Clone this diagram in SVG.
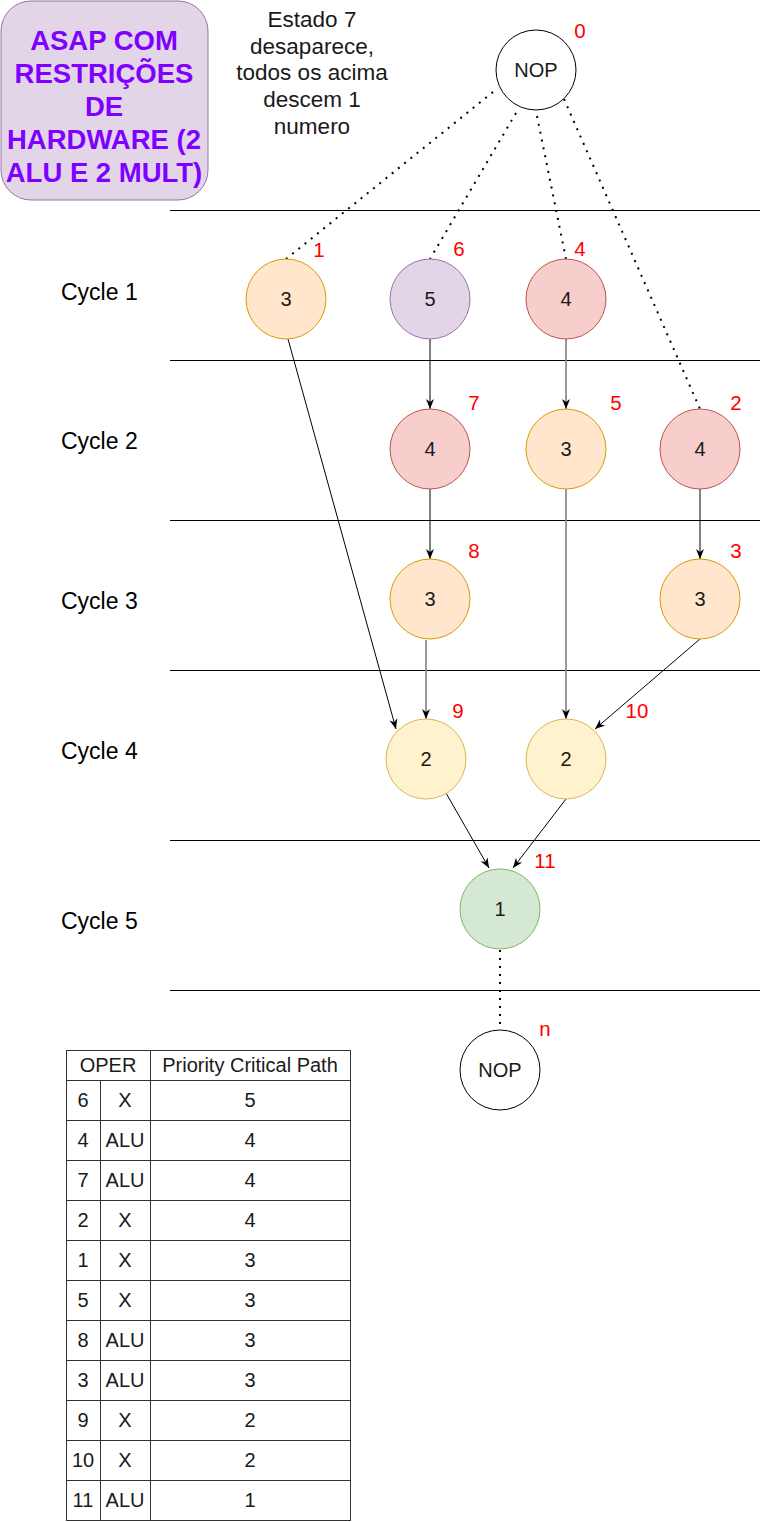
<svg xmlns="http://www.w3.org/2000/svg" width="765" height="1522" viewBox="0 0 765 1522">
<style>
text{font-family:"Liberation Sans",Arial,Helvetica,sans-serif;fill:#000}
.n{font-size:20px;text-anchor:middle;fill:#1a1a1a}
.lbl{font-size:20.5px;text-anchor:middle;fill:#ff0000}
.cyc{font-size:23px;fill:#000}
.or{fill:#ffe6cc;stroke:#d79b00;stroke-width:1}
.pu{fill:#e1d5e7;stroke:#9673a6;stroke-width:1}
.rd{fill:#f8cecc;stroke:#b85450;stroke-width:1}
.ye{fill:#fff2cc;stroke:#d6b656;stroke-width:1}
.gr{fill:#d5e8d4;stroke:#82b366;stroke-width:1}
.nop{fill:#fff;stroke:#000;stroke-width:1}
.e{stroke:#000;stroke-width:1;fill:none}
.g{stroke:#808080;stroke-width:1.6;fill:none}
.d{stroke:#000;stroke-width:2;stroke-dasharray:2 6;fill:none}
.hl{stroke:#000;stroke-width:1}
.tb{stroke:#333;stroke-width:1;fill:none}
.t{font-size:20px;text-anchor:middle;fill:#1a1a1a}
.title{font-size:27.5px;font-weight:bold;text-anchor:middle;fill:#7f00ff}
.note{font-size:22.5px;text-anchor:middle;fill:#1a1a1a}
</style>
<defs>
<marker id="arr" viewBox="0 0 10 10" refX="10" refY="5" markerWidth="10" markerHeight="10" markerUnits="userSpaceOnUse" orient="auto">
<path d="M0,1 L10,5 L0,9 L3,5 Z" fill="#000"/>
</marker>
</defs>
<rect width="765" height="1522" fill="#fff"/>

<g id="title">
<rect x="1" y="1" width="207" height="199" rx="30" ry="30" fill="#e1d5e7" stroke="#9673a6"/>
<text class="title" x="104" y="50">ASAP COM</text>
<text class="title" x="104" y="83">RESTRIÇÕES</text>
<text class="title" x="104" y="116">DE</text>
<text class="title" x="104" y="149">HARDWARE (2</text>
<text class="title" x="104" y="182">ALU E 2 MULT)</text>
</g>

<g id="note">
<text class="note" x="312" y="27">Estado 7</text>
<text class="note" x="312" y="53.5">desaparece,</text>
<text class="note" x="312" y="80">todos os acima</text>
<text class="note" x="312" y="107">descem 1</text>
<text class="note" x="312" y="133.5">numero</text>
</g>

<g id="cycle-lines">
<line class="hl" x1="170" y1="210.5" x2="760" y2="210.5"/>
<line class="hl" x1="170" y1="360.5" x2="760" y2="360.5"/>
<line class="hl" x1="170" y1="520.5" x2="760" y2="520.5"/>
<line class="hl" x1="170" y1="670.5" x2="760" y2="670.5"/>
<line class="hl" x1="170" y1="840.5" x2="760" y2="840.5"/>
<line class="hl" x1="170" y1="990.5" x2="760" y2="990.5"/>
</g>

<g id="cycle-labels">
<text class="cyc" x="61" y="300">Cycle 1</text>
<text class="cyc" x="61" y="449">Cycle 2</text>
<text class="cyc" x="61" y="609">Cycle 3</text>
<text class="cyc" x="61" y="759">Cycle 4</text>
<text class="cyc" x="61" y="929">Cycle 5</text>
</g>

<g id="connectors">
<line class="d" x1="493" y1="92" x2="286" y2="259"/>
<line class="d" x1="516" y1="113" x2="430" y2="259"/>
<line class="d" x1="537" y1="116" x2="566" y2="259"/>
<line class="d" x1="564" y1="99" x2="700" y2="409"/>
<line class="e" x1="288" y1="339" x2="396" y2="729" marker-end="url(#arr)"/>
<line class="e" x1="430" y1="339" x2="430" y2="409" marker-end="url(#arr)"/>
<line class="g" x1="566" y1="339" x2="566" y2="409" marker-end="url(#arr)"/>
<line class="e" x1="430" y1="489" x2="430" y2="559" marker-end="url(#arr)"/>
<line class="e" x1="700" y1="489" x2="700" y2="559" marker-end="url(#arr)"/>
<line class="g" x1="426" y1="640" x2="426" y2="719" marker-end="url(#arr)"/>
<line class="g" x1="566" y1="489" x2="566" y2="719" marker-end="url(#arr)"/>
<line class="e" x1="700" y1="639" x2="595" y2="729" marker-end="url(#arr)"/>
<line class="e" x1="446" y1="793" x2="489" y2="868" marker-end="url(#arr)"/>
<line class="e" x1="566" y1="799" x2="513" y2="868" marker-end="url(#arr)"/>
<line class="d" x1="500" y1="950" x2="500" y2="1030"/>
</g>

<g id="nop0">
<circle class="nop" cx="536" cy="70" r="40"/>
<text class="n" x="536" y="77">NOP</text>
<text class="lbl" x="580" y="38">0</text>
</g>
<g id="op1">
<circle class="or" cx="286" cy="299" r="40"/>
<text class="n" x="286" y="306">3</text>
<text class="lbl" x="319" y="257">1</text>
</g>
<g id="op6">
<circle class="pu" cx="430" cy="299" r="40"/>
<text class="n" x="430" y="306">5</text>
<text class="lbl" x="459" y="256">6</text>
</g>
<g id="op4">
<circle class="rd" cx="566" cy="299" r="40"/>
<text class="n" x="566" y="306">4</text>
<text class="lbl" x="580" y="256">4</text>
</g>
<g id="op7">
<circle class="rd" cx="430" cy="449" r="40"/>
<text class="n" x="430" y="456">4</text>
<text class="lbl" x="474" y="410">7</text>
</g>
<g id="op5">
<circle class="or" cx="566" cy="449" r="40"/>
<text class="n" x="566" y="456">3</text>
<text class="lbl" x="616" y="410">5</text>
</g>
<g id="op2">
<circle class="rd" cx="700" cy="449" r="40"/>
<text class="n" x="700" y="456">4</text>
<text class="lbl" x="736" y="410">2</text>
</g>
<g id="op8">
<circle class="or" cx="430" cy="599" r="40"/>
<text class="n" x="430" y="606">3</text>
<text class="lbl" x="474" y="558">8</text>
</g>
<g id="op3">
<circle class="or" cx="700" cy="599" r="40"/>
<text class="n" x="700" y="606">3</text>
<text class="lbl" x="736" y="558">3</text>
</g>
<g id="op9">
<circle class="ye" cx="426" cy="759" r="40"/>
<text class="n" x="426" y="766">2</text>
<text class="lbl" x="458" y="718">9</text>
</g>
<g id="op10">
<circle class="ye" cx="566" cy="759" r="40"/>
<text class="n" x="566" y="766">2</text>
<text class="lbl" x="637" y="718">10</text>
</g>
<g id="op11">
<circle class="gr" cx="500" cy="909" r="40"/>
<text class="n" x="500" y="916">1</text>
<text class="lbl" x="545" y="868">11</text>
</g>
<g id="nopn">
<circle class="nop" cx="500" cy="1070" r="40"/>
<text class="n" x="500" y="1077">NOP</text>
<text class="lbl" x="545" y="1036">n</text>
</g>

<g id="table">
<rect class="tb" x="66.5" y="1050.5" width="284" height="470"/>
<line class="tb" x1="66" y1="1080.5" x2="351" y2="1080.5"/>
<line class="tb" x1="66" y1="1120.5" x2="351" y2="1120.5"/>
<line class="tb" x1="66" y1="1160.5" x2="351" y2="1160.5"/>
<line class="tb" x1="66" y1="1200.5" x2="351" y2="1200.5"/>
<line class="tb" x1="66" y1="1240.5" x2="351" y2="1240.5"/>
<line class="tb" x1="66" y1="1280.5" x2="351" y2="1280.5"/>
<line class="tb" x1="66" y1="1320.5" x2="351" y2="1320.5"/>
<line class="tb" x1="66" y1="1360.5" x2="351" y2="1360.5"/>
<line class="tb" x1="66" y1="1400.5" x2="351" y2="1400.5"/>
<line class="tb" x1="66" y1="1440.5" x2="351" y2="1440.5"/>
<line class="tb" x1="66" y1="1480.5" x2="351" y2="1480.5"/>
<line class="tb" x1="100.5" y1="1080" x2="100.5" y2="1520"/>
<line class="tb" x1="150.5" y1="1050" x2="150.5" y2="1520"/>
<text class="t" x="108" y="1072">OPER</text>
<text class="t" x="250" y="1072">Priority Critical Path</text>
<text class="t" x="83" y="1107">6</text><text class="t" x="125" y="1107">X</text><text class="t" x="250" y="1107">5</text>
<text class="t" x="83" y="1147">4</text><text class="t" x="125" y="1147">ALU</text><text class="t" x="250" y="1147">4</text>
<text class="t" x="83" y="1187">7</text><text class="t" x="125" y="1187">ALU</text><text class="t" x="250" y="1187">4</text>
<text class="t" x="83" y="1227">2</text><text class="t" x="125" y="1227">X</text><text class="t" x="250" y="1227">4</text>
<text class="t" x="83" y="1267">1</text><text class="t" x="125" y="1267">X</text><text class="t" x="250" y="1267">3</text>
<text class="t" x="83" y="1307">5</text><text class="t" x="125" y="1307">X</text><text class="t" x="250" y="1307">3</text>
<text class="t" x="83" y="1347">8</text><text class="t" x="125" y="1347">ALU</text><text class="t" x="250" y="1347">3</text>
<text class="t" x="83" y="1387">3</text><text class="t" x="125" y="1387">ALU</text><text class="t" x="250" y="1387">3</text>
<text class="t" x="83" y="1427">9</text><text class="t" x="125" y="1427">X</text><text class="t" x="250" y="1427">2</text>
<text class="t" x="83" y="1467">10</text><text class="t" x="125" y="1467">X</text><text class="t" x="250" y="1467">2</text>
<text class="t" x="83" y="1507">11</text><text class="t" x="125" y="1507">ALU</text><text class="t" x="250" y="1507">1</text>
</g>
</svg>
